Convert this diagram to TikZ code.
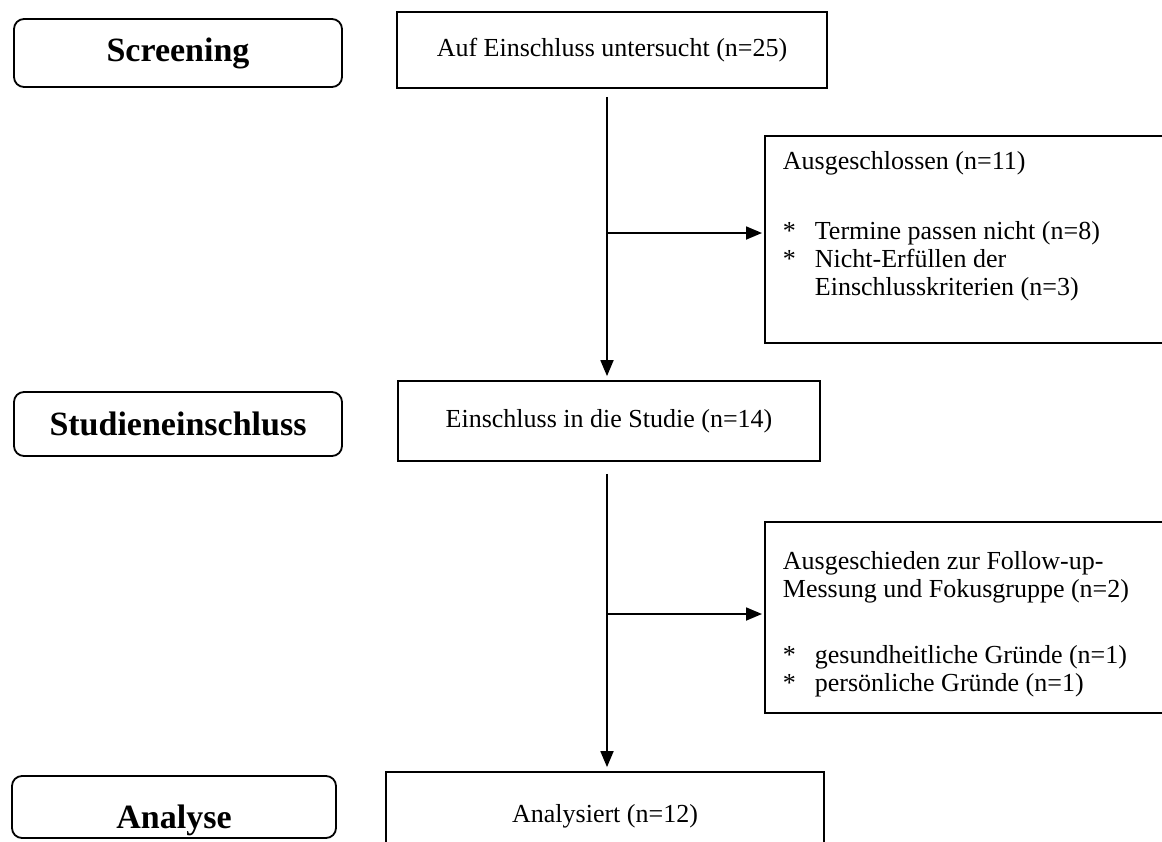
\documentclass[tikz,border=0pt]{standalone}
\usepackage{fontspec}
\setmainfont{Liberation Serif}
\usepackage{tikz}
\usetikzlibrary{arrows.meta,positioning}
\newcommand{\starline}{\makebox[16pt][l]{*}}

\begin{document}
\begin{tikzpicture}[
  x=0.5pt, y=-0.5pt,
  every node/.style={font=\fontsize{13}{14}\selectfont},
  phase/.style={draw, rounded corners=5pt, line width=0.9pt, minimum width=164pt, minimum height=34pt, inner sep=0pt, font=\fontsize{17}{20}\selectfont\bfseries},
  box/.style={draw, line width=0.9pt, inner sep=0pt},
  sidebox/.style={draw, line width=0.9pt, anchor=north west, text width=200pt, align=flush left, inner xsep=9pt, text height=9pt},
  arr/.style={-{Triangle[length=8pt,width=6.5pt]}, line width=0.9pt}
]
\useasboundingbox (0,0) rectangle (1162,841);

% phases on the left
\node[phase] (screening) at (178,53) {Screening};
\node[phase, minimum height=32pt] (inclusion) at (178,424) {Studieneinschluss};
\node[phase, minimum width=162pt, minimum height=31pt] (analysis) at (174,807) {\raisebox{-7pt}[11.5pt][3.7pt]{Analyse}};

% main flow
\node[box, minimum width=215pt, minimum height=38pt] (screened) at (612,50) {Auf Einschluss untersucht (n=25)};
\node[box, minimum width=211pt, minimum height=40pt] (included) at (609,421) {Einschluss in die Studie (n=14)};
\node[box, minimum width=219pt, minimum height=44pt] (analysed) at (605,816) {Analysiert (n=12)};

% side boxes
\node[sidebox, inner ysep=8pt, text depth=78.5pt] (excluded) at (764,135) {Ausgeschlossen (n=11)\\[21pt]
  \starline Termine passen nicht (n=8)\\
  \starline Nicht-Erfüllen der\\
  \hspace*{16pt}Einschlusskriterien (n=3)};
\node[sidebox, inner ysep=15pt, text depth=56.5pt] (dropout) at (764,521) {Ausgeschieden zur Follow-up-\\
  Messung und Fokusgruppe (n=2)\\[19pt]
  \starline gesundheitliche Gründe (n=1)\\
  \starline persönliche Gründe (n=1)};

\coordinate (split1) at (607,233);
\coordinate (split2) at (607,614);

\draw[arr, shorten <=4pt, shorten >=2pt] (screened.south -| split1) -- (included.north -| split1);
\draw[arr, shorten >=1pt] (split1) -- (split1 -| excluded.west);
\draw[arr, shorten <=6pt, shorten >=2pt] (included.south -| split2) -- (analysed.north -| split2);
\draw[arr, shorten >=1pt] (split2) -- (split2 -| dropout.west);
\end{tikzpicture}
\end{document}
